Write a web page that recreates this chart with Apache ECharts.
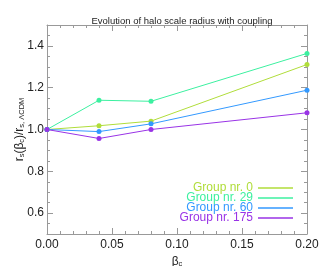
<!DOCTYPE html>
<html><head><meta charset="utf-8">
<script src="https://cdn.jsdelivr.net/npm/echarts@6/dist/echarts.min.js"></script>
<style>html,body{margin:0;padding:0;background:#fff}#c{width:319px;height:266px}</style>
</head><body><div id="c"></div>
<script>
const betaC = [0.00, 0.04, 0.08, 0.20];
const group0 = [1.000, 1.018, 1.040, 1.311];
const group29 = [1.000, 1.140, 1.135, 1.364];
const group60 = [1.000, 0.990, 1.027, 1.188];
const group175 = [1.000, 0.957, 1.000, 1.080];
const names = ['Group nr. 0', 'Group nr. 29', 'Group nr. 60', 'Group nr. 175'];
const colors = ['#b0dd3a', '#3cf0a0', '#3399ff', '#9933e6'];
const yLabels = [0.6, 0.8, 1.0, 1.2, 1.4];
const allData = [group0, group29, group60, group175];

const font = 'Liberation Sans, Arial, sans-serif';
const axisCol = '#999';
const richName = {
  a: {fontSize: 12, color: '#222', fontFamily: font, verticalAlign: 'bottom', lineHeight: 15},
  s: {fontSize: 7.5, color: '#222', fontFamily: font, verticalAlign: 'bottom', lineHeight: 11}
};
function yAx(pos, labels) {
  return [{
    type: 'value', min: 0.5, max: 1.5, interval: 0.05, position: pos,
    axisLine: {show: true, lineStyle: {color: axisCol}},
    axisTick: {show: true, inside: true, length: 3, lineStyle: {color: axisCol}},
    axisLabel: labels ? {show: true, customValues: yLabels, color: '#222', fontSize: 12, fontFamily: font, margin: 3,
      formatter: v => v.toFixed(1)} : {show: false},
    splitLine: {show: false},
    name: labels ? '{a|r}{s|s}{a|(β}{s|c}{a|)/r}{s|s, ΛCDM}' : '',
    nameLocation: 'middle', nameGap: 21, nameRotate: 90, nameMoveOverlap: false,
    nameTextStyle: {rich: richName}
  }, {
    type: 'value', min: 0.5, max: 1.5, position: pos,
    axisLine: {show: false},
    axisTick: {show: true, inside: true, length: 6, customValues: yLabels, lineStyle: {color: axisCol}},
    axisLabel: {show: false}, splitLine: {show: false}
  }];
}
function xAx(pos, labels) {
  return {
    type: 'value', min: 0, max: 0.2, interval: 0.05, position: pos,
    axisLine: {show: true, lineStyle: {color: axisCol}},
    axisTick: {show: true, inside: true, length: 6, lineStyle: {color: axisCol}},
    minorTick: {show: true, splitNumber: 5, length: 3, lineStyle: {color: axisCol}},
    axisLabel: labels ? {show: true, color: '#222', fontSize: 12, fontFamily: font, margin: 5,
      formatter: v => v.toFixed(2)} : {show: false},
    splitLine: {show: false},
    name: labels ? '{a|β}{s|c}' : '', nameLocation: 'middle', nameGap: 15,
    nameTextStyle: {rich: richName}
  };
}

const chart = echarts.init(document.getElementById('c'), null, {renderer: 'canvas'});
chart.setOption({
  animation: false,
  title: {text: 'Evolution of halo scale radius with coupling', left: 177, top: 11, textAlign: 'center',
    textStyle: {fontSize: 9.5, fontWeight: 'normal', color: '#222', fontFamily: font}},
  grid: {left: 47, right: 12, top: 25, bottom: 32, outerBoundsMode: 'none', containLabel: false},
  xAxis: [xAx('bottom', true), xAx('top', false)],
  yAxis: [...yAx('left', true), ...yAx('right', false)],
  legend: {
    orient: 'vertical', right: 26, top: 182, align: 'right', itemGap: -2,
    itemWidth: 35, itemHeight: 1.5, icon: 'rect', padding: 0,
    textStyle: {fontSize: 12, fontFamily: font},
    data: names.map((n, i) => ({name: n, textStyle: {color: colors[i]}}))
  },
  series: allData.map((d, i) => ({
    name: names[i], type: 'line', xAxisIndex: 0, yAxisIndex: 0,
    data: betaC.map((x, j) => [x, d[j]]),
    symbol: 'circle', symbolSize: 5, showSymbol: true,
    lineStyle: {width: 1, color: colors[i]}, itemStyle: {color: colors[i]},
    emphasis: {disabled: true}
  }))
});
</script></body></html>
